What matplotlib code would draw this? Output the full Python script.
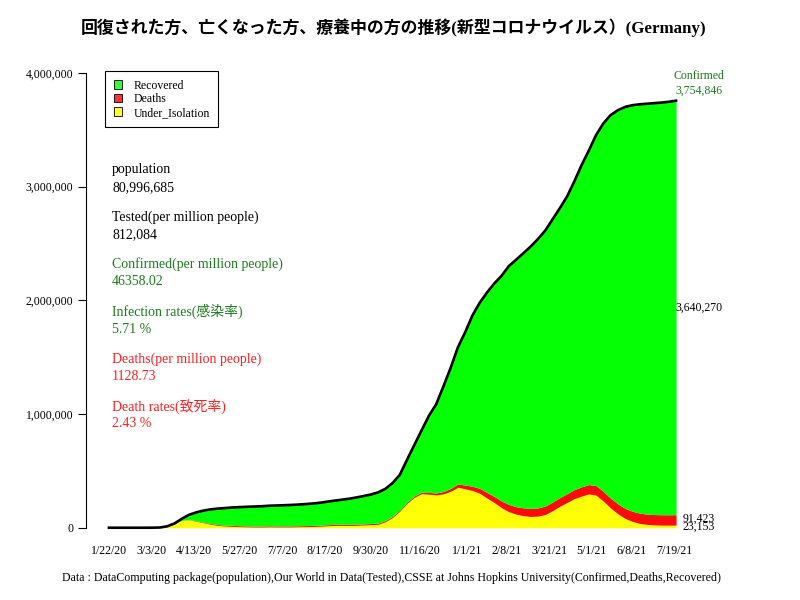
import matplotlib
matplotlib.use("Agg")
import matplotlib.pyplot as plt
from matplotlib.patches import Patch
import pandas as pd

plt.rcParams["font.family"] = ["Liberation Serif", "Noto Sans CJK JP"]
plt.rcParams["axes.unicode_minus"] = False

# 週ごとの値（1/22/20 から 7/21/21 まで）
dates = pd.date_range("2020-01-22", periods=79, freq="7D")

confirmed = [
    0, 4, 12, 16, 16, 21, 262, 1908, 12327, 37323,
    77872, 113296, 134753, 150648, 161539, 168162, 173171, 178281, 181196, 184121,
    186461, 188604, 193371, 195392, 197523, 200260, 203368, 207707, 212828, 219540,
    228621, 237936, 245929, 254474, 265857, 278070, 291722, 310144, 341223, 392049,
    464239, 597583, 727553, 855916, 983588, 1084743, 1242203, 1406161, 1587115, 1719737,
    1866887, 1978590, 2068002, 2147497, 2215000, 2300000, 2356000, 2414000, 2472000, 2538000,
    2612000, 2710000, 2808000, 2911000, 3044000, 3187000, 3316000, 3452000, 3555000, 3628000,
    3671000, 3700000, 3715000, 3723000, 3728000, 3733000, 3738000, 3745000, 3754846,
]
deaths = [
    0, 0, 0, 0, 0, 0, 0, 3, 28, 206,
    920, 2349, 3868, 5279, 6467, 7275, 7738, 8257, 8498, 8674,
    8802, 8882, 8962, 9005, 9063, 9090, 9125, 9156, 9181, 9207,
    9243, 9280, 9310, 9352, 9378, 9428, 9500, 9604, 9747, 9958,
    10356, 10930, 11982, 13370, 15160, 17123, 20372, 24125, 28667, 33071,
    37607, 43486, 49784, 53972, 59742, 63635, 66164, 68772, 70881, 72489,
    74132, 75440, 76543, 77707, 79381, 80893, 82544, 84123, 85481, 86665,
    87914, 88774, 89617, 90210, 90631, 90941, 91207, 91360, 91423,
]
under_isolation = [
    0, 4, 12, 15, 2, 5, 244, 1880, 12200, 31000,
    65000, 70000, 57000, 44000, 30000, 20000, 15000, 12000, 9000, 7500,
    6500, 6000, 7500, 6500, 6500, 7000, 8000, 9500, 11000, 13500,
    17000, 20000, 20500, 20000, 21000, 24000, 27000, 30000, 52000, 90000,
    145000, 214000, 268000, 299000, 295000, 288000, 298000, 321000, 356000, 342000,
    327000, 302000, 260000, 221000, 175000, 141000, 119000, 106000, 99000, 102000,
    116000, 150000, 188000, 222000, 256000, 279000, 297000, 286000, 234000, 173000,
    122000, 81000, 55000, 38000, 29000, 25000, 23000, 22600, 23153,
]

xtick_dates = ["2020-01-22", "2020-03-03", "2020-04-13", "2020-05-27", "2020-07-07",
               "2020-08-17", "2020-09-30", "2020-11-16", "2021-01-01", "2021-02-08",
               "2021-03-21", "2021-05-01", "2021-06-08", "2021-07-19"]
xtick_labels = ["1/22/20", "3/3/20", "4/13/20", "5/27/20", "7/7/20", "8/17/20", "9/30/20",
                "11/16/20", "1/1/21", "2/8/21", "3/21/21", "5/1/21", "6/8/21", "7/19/21"]
yticks = [0, 1000000, 2000000, 3000000, 4000000]
ytick_labels = ["0", "1,000,000", "2,000,000", "3,000,000", "4,000,000"]

info_lines = [
    ("population", "80,996,685", "black"),
    ("Tested(per million people)", "812,084", "black"),
    ("Confirmed(per million people)", "46358.02", "#1f7a1f"),
    ("Infection rates(感染率)", "5.71 %", "#1f7a1f"),
    ("Deaths(per million people)", "1128.73", "#ff2020"),
    ("Death rates(致死率)", "2.43 %", "#ff2020"),
]

GREEN = "#05ff05"
RED = "#ff0a0a"
YELLOW = "#ffff05"

iso = pd.Series(under_isolation, index=dates)
dead_top = iso + pd.Series(deaths, index=dates)
conf = pd.Series(confirmed, index=dates)

fig = plt.figure(figsize=(8, 6), dpi=100)
ax = fig.add_axes([0.1075, 0.1015, 0.7925, 0.8151])

ax.fill_between(dates, 0, iso, color=YELLOW, linewidth=0)
ax.fill_between(dates, iso, dead_top, color=RED, linewidth=0)
ax.fill_between(dates, dead_top, conf, color=GREEN, linewidth=0)
ax.plot(dates, conf, color="black", linewidth=1.9)

start = dates[0]
ax.set_xlim(start - pd.Timedelta(days=22.1), start + pd.Timedelta(days=588.3))
ax.set_ylim(-100000, 4200000)

for s in ["top", "right", "bottom"]:
    ax.spines[s].set_visible(False)
ax.spines["left"].set_bounds(0, 4000000)
ax.spines["left"].set_linewidth(0.8)

ax.set_yticks(yticks)
ax.set_yticklabels(ytick_labels, fontsize=8.5)
ax.tick_params(axis="y", length=5.5, width=0.8, pad=3.5)
ax.set_xticks(pd.to_datetime(xtick_dates))
ax.set_xticklabels(xtick_labels, fontsize=8.6)
ax.tick_params(axis="x", length=0, pad=4.5)

# 右端のラベル
lab_x = start + pd.Timedelta(days=568)
rec_last = confirmed[-1] - deaths[-1] - under_isolation[-1]
ax.text(lab_x, 3970000, "Confirmed", ha="center", va="center", fontsize=8.5,
        color="#1f7a1f", clip_on=False)
ax.text(lab_x, 3845000, f"{confirmed[-1]:,}", ha="center", va="center", fontsize=8.5,
        color="#1f7a1f", clip_on=False)
ax.text(lab_x, dead_top.iloc[-1] + rec_last / 2, f"{rec_last:,}", ha="center", va="center",
        fontsize=8.5, clip_on=False)
ax.text(lab_x, under_isolation[-1] + deaths[-1] / 2 + 8000, f"{deaths[-1]:,}", ha="center",
        va="center", fontsize=8.5, clip_on=False)
ax.text(lab_x, under_isolation[-1] / 2 - 5000, f"{under_isolation[-1]:,}", ha="center",
        va="center", fontsize=8.5, clip_on=False)

handles = [Patch(facecolor="#33ff33", edgecolor="black", linewidth=0.6),
           Patch(facecolor="#ff3333", edgecolor="black", linewidth=0.6),
           Patch(facecolor="#ffff33", edgecolor="black", linewidth=0.6)]
leg = ax.legend(handles, ["Recovered", "Deaths", "Under_Isolation"], loc="upper left",
                bbox_to_anchor=(0.030, 0.957), borderaxespad=0, fontsize=8.5,
                fancybox=False, framealpha=1, edgecolor="black", handlelength=0.75,
                handleheight=0.75, handletextpad=0.95, borderpad=0.72, labelspacing=0.14)
leg.get_frame().set_linewidth(0.8)

# 左側の情報
y0 = 170
for i, (head, val, col) in enumerate(info_lines):
    yy = y0 + i * 47.2
    fig.text(112 / 800, 1 - yy / 600, head, ha="left", va="center", fontsize=10, color=col)
    fig.text(112 / 800, 1 - (yy + 17.5) / 600, val, ha="left", va="center", fontsize=10, color=col)

fig.text(0.4925, 1 - 28 / 600, "回復された方、亡くなった方、療養中の方の推移(新型コロナウイルス）(Germany)",
         ha="center", va="center", fontsize=12.2, fontweight="bold")
fig.text(391.5 / 800, 1 - 578 / 600,
         "Data : DataComputing package(population),Our World in Data(Tested),"
         "CSSE at Johns Hopkins University(Confirmed,Deaths,Recovered)",
         ha="center", va="center", fontsize=8.55)

fig.savefig("out.png", dpi=100)
